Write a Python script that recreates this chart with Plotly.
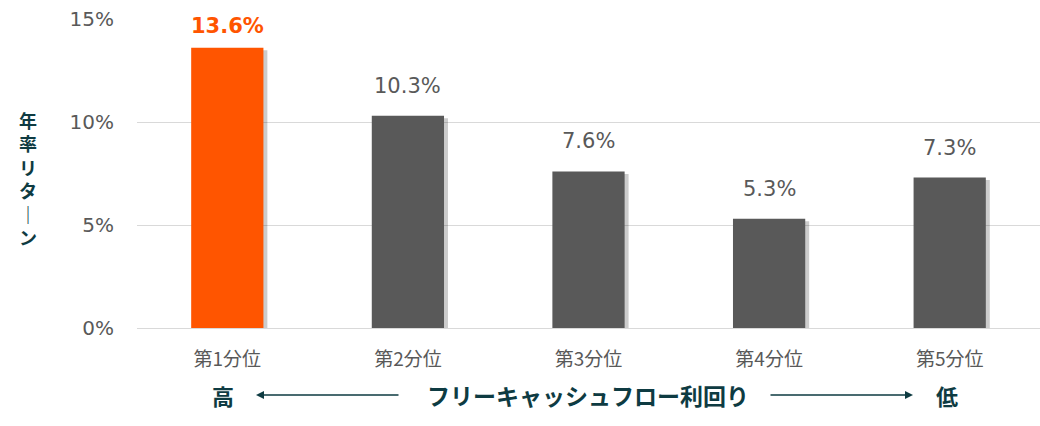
import plotly.graph_objects as go

categories = ["第1分位", "第2分位", "第3分位", "第4分位", "第5分位"]
returns = [13.6, 10.3, 7.6, 5.3, 7.3]
label_texts = ["13.6%", "10.3%", "7.6%", "5.3%", "7.3%"]
y_ticks = [0, 5, 10, 15]
y_tick_labels = ["0%", "5%", "10%", "15%"]
y_title_chars = ["年", "率", "リ", "タ", "｜", "ン"]
x_title = "フリーキャッシュフロー利回り"
high_label = "高"
low_label = "低"

ORANGE = "#FF5500"
GRAY = "#595959"
TEAL = "#0E3B42"
FONT = "DejaVu Sans, Noto Sans CJK JP, sans-serif"
CJK = "Noto Sans CJK JP, sans-serif"

PLOT_L, PLOT_W = 137, 903
PLOT_BOTTOM, PLOT_H = 328, 309


def px_x(px):
    return (px - PLOT_L) / PLOT_W


def px_y(py):
    return (PLOT_BOTTOM - py) / PLOT_H


bar_colors = [ORANGE] + [GRAY] * (len(returns) - 1)

fig = go.Figure()
fig.add_trace(go.Bar(
    x=categories, y=[v - 0.12 for v in returns],
    width=0.4, offset=-0.2 + 0.022,
    marker=dict(color="rgba(0,0,0,0.2)", line=dict(width=0)),
    hoverinfo="skip", showlegend=False,
))
fig.add_trace(go.Bar(
    x=categories, y=returns,
    width=0.4, offset=-0.2,
    marker=dict(color=bar_colors, line=dict(width=0)),
    showlegend=False,
))

annotations = []
for i, (c, v, t) in enumerate(zip(categories, returns, label_texts)):
    first = i == 0
    annotations.append(dict(
        x=c, y=v, xref="x", yref="y", text=f"<b>{t}</b>" if first else t,
        showarrow=False, xanchor="center", yanchor="bottom",
        yshift=8 if first else 16,
        font=dict(family=FONT, size=21, color=ORANGE if first else GRAY),
    ))

# y-axis title, one character per line
annotations.append(dict(
    x=px_x(28), y=px_y(178), xref="paper", yref="paper",
    text="<b>" + "<br>".join(y_title_chars) + "</b>",
    showarrow=False, xanchor="center", yanchor="middle",
    font=dict(family=CJK, size=18, color=TEAL),
))

row_y = px_y(395)
for txt, cx, sz in [(high_label, 222.5, 22), (low_label, 946.5, 22), (x_title, 587.5, 23)]:
    annotations.append(dict(
        x=px_x(cx), y=row_y, xref="paper", yref="paper",
        text=f"<b>{txt}</b>", showarrow=False, xanchor="center", yanchor="middle",
        font=dict(family=CJK, size=sz, color=TEAL),
    ))
for head, tail_dx in [(256, 144), (913, -144)]:
    annotations.append(dict(
        x=px_x(head), y=row_y, xref="paper", yref="paper",
        ax=tail_dx, ay=0, axref="pixel", ayref="pixel", text="",
        showarrow=True, arrowhead=2, arrowsize=1, arrowwidth=1.6, arrowcolor=TEAL,
    ))

fig.update_layout(
    width=1040, height=426,
    margin=dict(l=137, r=0, t=19, b=98, autoexpand=False),
    paper_bgcolor="white", plot_bgcolor="white",
    barmode="overlay",
    annotations=annotations,
    xaxis=dict(
        showgrid=False, showline=False, zeroline=False, ticks="",
        ticklabelstandoff=18,
        tickfont=dict(family=CJK, size=19, color=GRAY),
        fixedrange=True,
    ),
    yaxis=dict(
        range=[0, 15], tickvals=y_ticks, ticktext=y_tick_labels,
        showgrid=True, gridcolor="#D9D9D9", gridwidth=1.2,
        zeroline=True, zerolinecolor="#D9D9D9", zerolinewidth=1.2,
        showline=False, ticks="", ticklabelstandoff=22,
        tickfont=dict(family=FONT, size=20, color=GRAY),
        fixedrange=True,
    ),
)

fig.write_html(
    "out.html",
    config={"displayModeBar": False},
    post_script="document.body.style.margin='0';",
)
